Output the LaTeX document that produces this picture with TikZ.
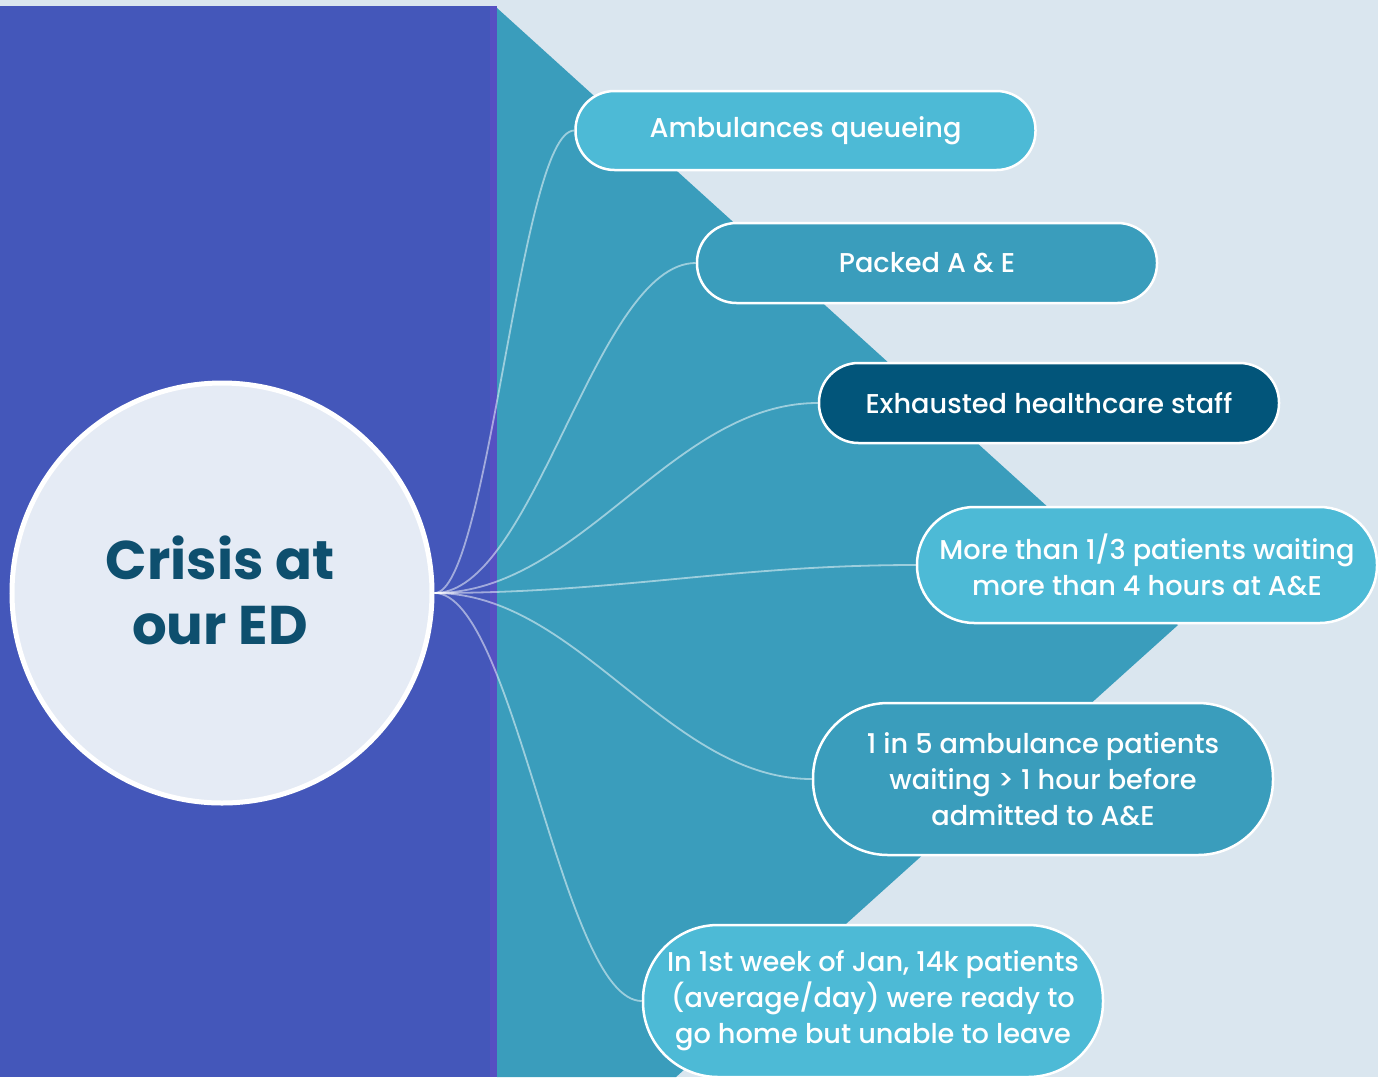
\documentclass[tikz,border=0pt]{standalone}
\usepackage{fontspec}
\setmainfont{Poppins}[UprightFont=* Medium, BoldFont=* Bold]
\definecolor{bgc}{HTML}{DAE6EF}
\definecolor{purp}{HTML}{4457BA}
\definecolor{purpedge}{HTML}{5650C2}
\definecolor{teal}{HTML}{3A9DBC}
\definecolor{lightbox}{HTML}{4DBAD6}
\definecolor{darkbox}{HTML}{02557A}
\definecolor{circfill}{HTML}{E5EBF5}
\definecolor{titlec}{HTML}{0E4F6E}
\pgfdeclarelayer{backlayer}
\pgfdeclarelayer{linklayer}
\pgfsetlayers{backlayer,linklayer,main}
\begin{document}
\begin{tikzpicture}[x=1pt,y=-1pt,
  pill/.style={draw=white, line width=2.5pt, text=white, align=center,
    minimum width=460pt, inner sep=0pt, font=\fontsize{27.2}{36}\selectfont},
  conn/.style={draw=white, draw opacity=0.5, line width=1.8pt}]
\useasboundingbox (0,0) rectangle (1378,1077);
\begin{pgfonlayer}{backlayer}
\fill[bgc] (0,0) rectangle (1378,1077);
\fill[purp] (0,6) rectangle (497,1077);
\fill[purpedge] (490,6) rectangle (497,1077);
\fill[teal] (497,8) -- (1178,625) -- (676,1077) -- (497,1077) -- cycle;
\end{pgfonlayer}
% circle
\node[circle, draw=white, line width=5pt, fill=circfill, minimum size=420pt, inner sep=0pt] (c) at (222,593) {};
\node[text=titlec, align=center, font=\bfseries\fontsize{54.5}{65}\selectfont, inner sep=0pt] (title) at (220,590) {Crisis at\\our ED};
% boxes
\node[pill, fill=lightbox, minimum height=79pt, rounded corners=39pt] (amb) at (805.5,130.5) {Ambulances queueing};
\node[pill, fill=teal, minimum height=80pt, rounded corners=39.5pt] (pack) at (927,263) {Packed A \& E};
\node[pill, fill=darkbox, minimum height=80pt, rounded corners=39.5pt] (exh) at (1049,403) {Exhausted healthcare staff};
\node[pill, fill=lightbox, minimum height=116pt, rounded corners=57.5pt] (more) at (1147,565) {More than 1/3 patients waiting\\more than 4 hours at A\&E};
\node[pill, fill=teal, minimum height=152pt, rounded corners=75pt] (five) at (1043,779) {1 in 5 ambulance patients\\waiting > 1 hour before\\admitted to A\&E};
\node[pill, fill=lightbox, minimum height=152pt, rounded corners=75pt] (week) at (873,1001) {In 1st week of Jan, 14k patients\\(average/day) were ready to\\go home but unable to leave};
% connectors
\begin{pgfonlayer}{linklayer}
\draw[conn] (c.east) .. controls +(54,0) and +(-54,0) .. (amb.west);
\draw[conn] (c.east) .. controls +(100,0) and +(-100,0) .. (pack.west);
\draw[conn] (c.east) .. controls +(146,0) and +(-146,0) .. (exh.west);
\draw[conn] (c.east) .. controls +(184,0) and +(-184,0) .. (more.west);
\draw[conn] (c.east) .. controls +(144,0) and +(-144,0) .. (five.west);
\draw[conn] (c.east) .. controls +(80,0) and +(-80,0) .. (week.west);
\end{pgfonlayer}
\end{tikzpicture}
\end{document}
